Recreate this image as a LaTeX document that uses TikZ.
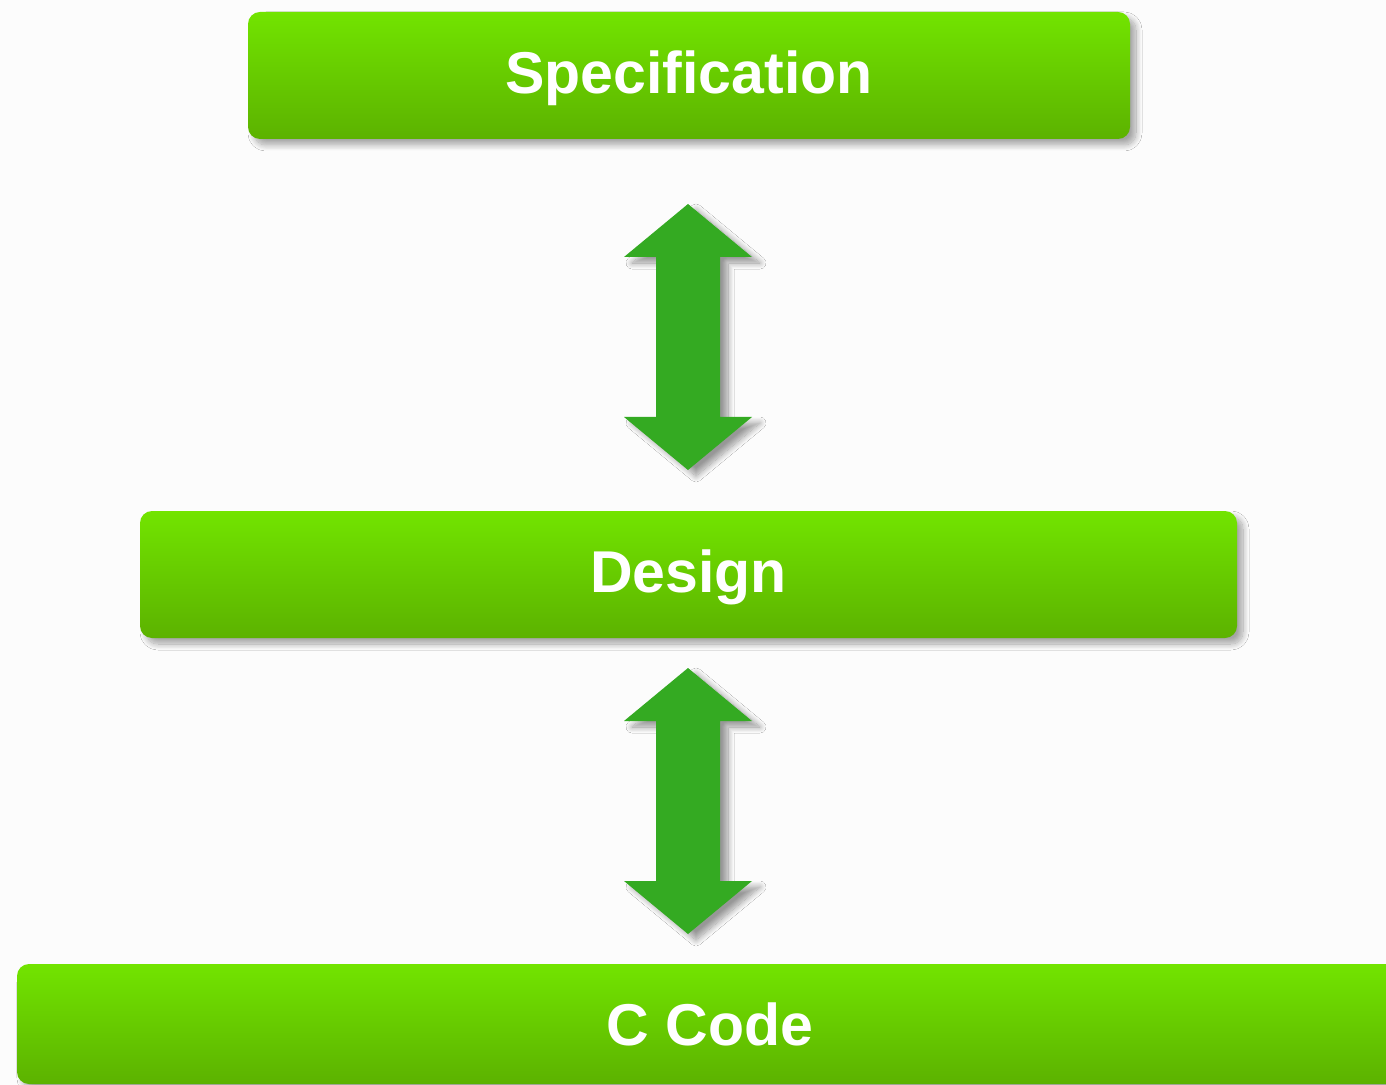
\documentclass[tikz,border=0pt]{standalone}
\usepackage{fontspec}
\setmainfont{Liberation Sans}
\usetikzlibrary{calc,shadows.blur}
\definecolor{boxtop}{RGB}{114,228,0}
\definecolor{boxbot}{RGB}{92,178,0}
\definecolor{arrowgreen}{RGB}{52,170,34}
\definecolor{paper}{RGB}{252,252,252}
\tikzset{
	stage/.style={rounded corners=6pt,top color=boxtop,bottom color=boxbot,
		text=white,font=\fontsize{29.5}{36}\selectfont\bfseries,inner sep=0pt,
		text height=21pt,text depth=3pt,
		blur shadow={shadow xshift=3pt,shadow yshift=-3pt,shadow blur radius=3pt,
			shadow blur steps=14,shadow opacity=35}},
	twoway/.style={fill=arrowgreen,
		blur shadow={shadow xshift=4pt,shadow yshift=-3pt,shadow blur radius=3pt,
			shadow blur steps=14,shadow opacity=40}}
}

\begin{document}
\begin{tikzpicture}[x=0.5pt,y=-0.5pt]
	\fill[paper] (0,0) rectangle (1386,1085);
	\useasboundingbox (0,0) rectangle (1386,1085);
	\node[stage,minimum width=441pt,minimum height=63.5pt] (spec) at (689,75.5) {Specification};
	\node[stage,minimum width=548.5pt,minimum height=63.5pt] (design) at (688.5,574.5) {Design};
	\node[stage,minimum width=693pt,minimum height=60pt,text depth=0pt] (ccode) at (710,1024) {C Code};
	\coordinate (t1) at (688,204);
	\coordinate (b1) at (688,470);
	\coordinate (t2) at (688,668);
	\coordinate (b2) at (688,934);
	\foreach \t/\b in {t1/b1,t2/b2}
	\fill[twoway] (\t) -- ($(\t)+(64,53)$) -- ($(\t)+(32,53)$) -- ($(\b)+(32,-53)$)
		-- ($(\b)+(64,-53)$) -- (\b) -- ($(\b)+(-64,-53)$) -- ($(\b)+(-32,-53)$)
		-- ($(\t)+(-32,53)$) -- ($(\t)+(-64,53)$) -- cycle;
\end{tikzpicture}
\end{document}
